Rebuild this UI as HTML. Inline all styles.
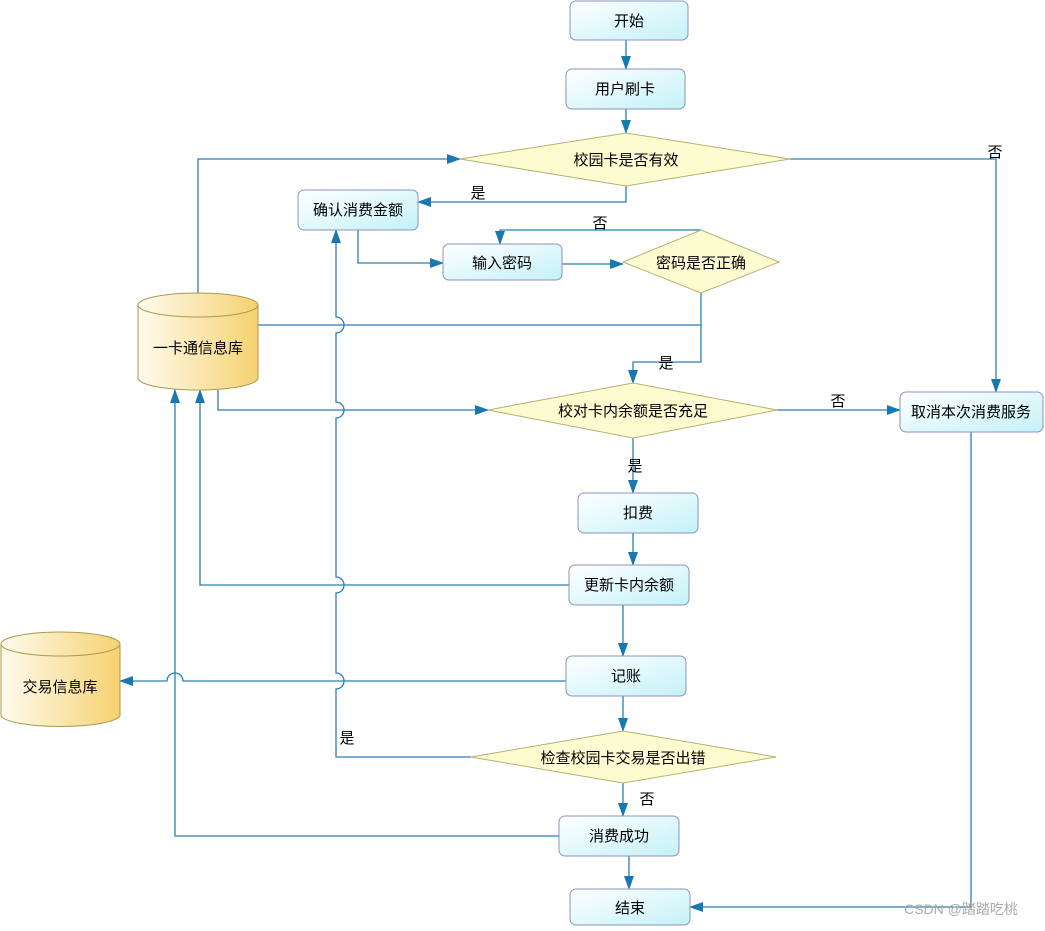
<!DOCTYPE html>
<html><head><meta charset="utf-8"><style>
html,body{margin:0;padding:0;background:#fff;}
svg text{font-family:"Liberation Sans","Noto Sans CJK SC",sans-serif;font-size:15px;fill:#000;}
</style></head><body>
<svg width="1045" height="926" viewBox="0 0 1045 926" xmlns="http://www.w3.org/2000/svg">
<defs>
<linearGradient id="bx" x1="0" y1="0" x2="1" y2="1"><stop offset="0" stop-color="#ffffff"/><stop offset="1" stop-color="#c4f2f8"/></linearGradient>
<linearGradient id="cy" x1="0" y1="0" x2="1" y2="0"><stop offset="0" stop-color="#fffbee"/><stop offset="1" stop-color="#f5d271"/></linearGradient>
<marker id="a" markerWidth="14" markerHeight="10" refX="13" refY="5" orient="auto" markerUnits="userSpaceOnUse"><path d="M0,0 L14,5 L0,10 Z" fill="#1878b0"/></marker>
</defs>
<g fill="none" stroke="#2a7fb0" stroke-width="1.3">
<path d="M626,40 V69" marker-end="url(#a)"/>
<path d="M626,109 V133" marker-end="url(#a)"/>
<path d="M626,186 V202 H418" marker-end="url(#a)"/>
<path d="M790,159 H996 V392" marker-end="url(#a)"/>
<path d="M198,293 V159 H460" marker-end="url(#a)"/>
<path d="M358,230 V263 H443" marker-end="url(#a)"/>
<path d="M562,264 H623" marker-end="url(#a)"/>
<path d="M701,230 H500 V244" marker-end="url(#a)"/>
<path d="M258,325 H701"/>
<path d="M701,293 V362 H633 V383" marker-end="url(#a)"/>
<path d="M218,390 V410 H488" marker-end="url(#a)"/>
<path d="M777,410 H900" marker-end="url(#a)"/>
<path d="M633,438 V493" marker-end="url(#a)"/>
<path d="M633,533 V565" marker-end="url(#a)"/>
<path d="M569,585 H200 V390" marker-end="url(#a)"/>
<path d="M623,605 V656" marker-end="url(#a)"/>
<path d="M566,681 H183 A8,8 0 0 0 167,681 H120" marker-end="url(#a)"/>
<path d="M623,696 V731" marker-end="url(#a)"/>
<path d="M471,757 H336 V689 A8,8 0 0 0 336,673 V593 A8,8 0 0 0 336,577 V418 A8,8 0 0 0 336,402 V333 A8,8 0 0 0 336,317 V230" marker-end="url(#a)"/>
<path d="M623,783 V816" marker-end="url(#a)"/>
<path d="M559,836 H175 V390" marker-end="url(#a)"/>
<path d="M629,856 V889" marker-end="url(#a)"/>
<path d="M971,432 V907 H690" marker-end="url(#a)"/>
</g>
<g stroke="#8a93c0" stroke-width="1" fill="url(#bx)">
<rect x="570" y="1" width="118" height="39" rx="6"/>
<rect x="566" y="69" width="119" height="40" rx="6"/>
<rect x="298" y="190" width="120" height="40" rx="6"/>
<rect x="443" y="244" width="119" height="36" rx="6"/>
<rect x="900" y="392" width="143" height="40" rx="6"/>
<rect x="578" y="493" width="120" height="40" rx="6"/>
<rect x="569" y="565" width="120" height="40" rx="6"/>
<rect x="566" y="656" width="120" height="40" rx="6"/>
<rect x="559" y="816" width="120" height="40" rx="6"/>
<rect x="570" y="889" width="120" height="36" rx="6"/>
</g>
<g stroke="#b8b070" stroke-width="1" fill="#fdfbd0">
<polygon points="460,159 626,133 790,159 626,186"/>
<polygon points="623,262 701,230 779,262 701,293"/>
<polygon points="488,410 633,383 777,410 633,438"/>
<polygon points="471,757 623,731 776,757 623,783"/>
</g>
<g stroke="#a89a50" stroke-width="1" fill="url(#cy)">
<path d="M138,305 V378 A60,12 0 0 0 258,378 V305"/>
<ellipse cx="198" cy="305" rx="60" ry="12"/>
<path d="M1,644 V716 A60,12 0 0 0 120,716 V644"/>
<ellipse cx="60.5" cy="644" rx="59.5" ry="12"/>
</g>
<g text-anchor="middle">
<text x="629" y="26">开始</text>
<text x="625" y="94">用户刷卡</text>
<text x="626" y="165">校园卡是否有效</text>
<text x="358" y="215">确认消费金额</text>
<text x="502" y="268">输入密码</text>
<text x="701" y="268">密码是否正确</text>
<text x="198" y="353">一卡通信息库</text>
<text x="633" y="416">校对卡内余额是否充足</text>
<text x="971" y="417">取消本次消费服务</text>
<text x="638" y="518">扣费</text>
<text x="629" y="590">更新卡内余额</text>
<text x="60" y="692">交易信息库</text>
<text x="626" y="681">记账</text>
<text x="623" y="763">检查校园卡交易是否出错</text>
<text x="619" y="841">消费成功</text>
<text x="630" y="913">结束</text>
<text x="478" y="198">是</text>
<text x="995" y="157">否</text>
<text x="600" y="228">否</text>
<text x="666" y="368">是</text>
<text x="838" y="406">否</text>
<text x="635" y="471">是</text>
<text x="347" y="743">是</text>
<text x="647" y="804">否</text>
<text x="961" y="914" style="fill:#aaa;font-size:14px">CSDN @踏踏吃桃</text>
</g>
</svg>
</body></html>
